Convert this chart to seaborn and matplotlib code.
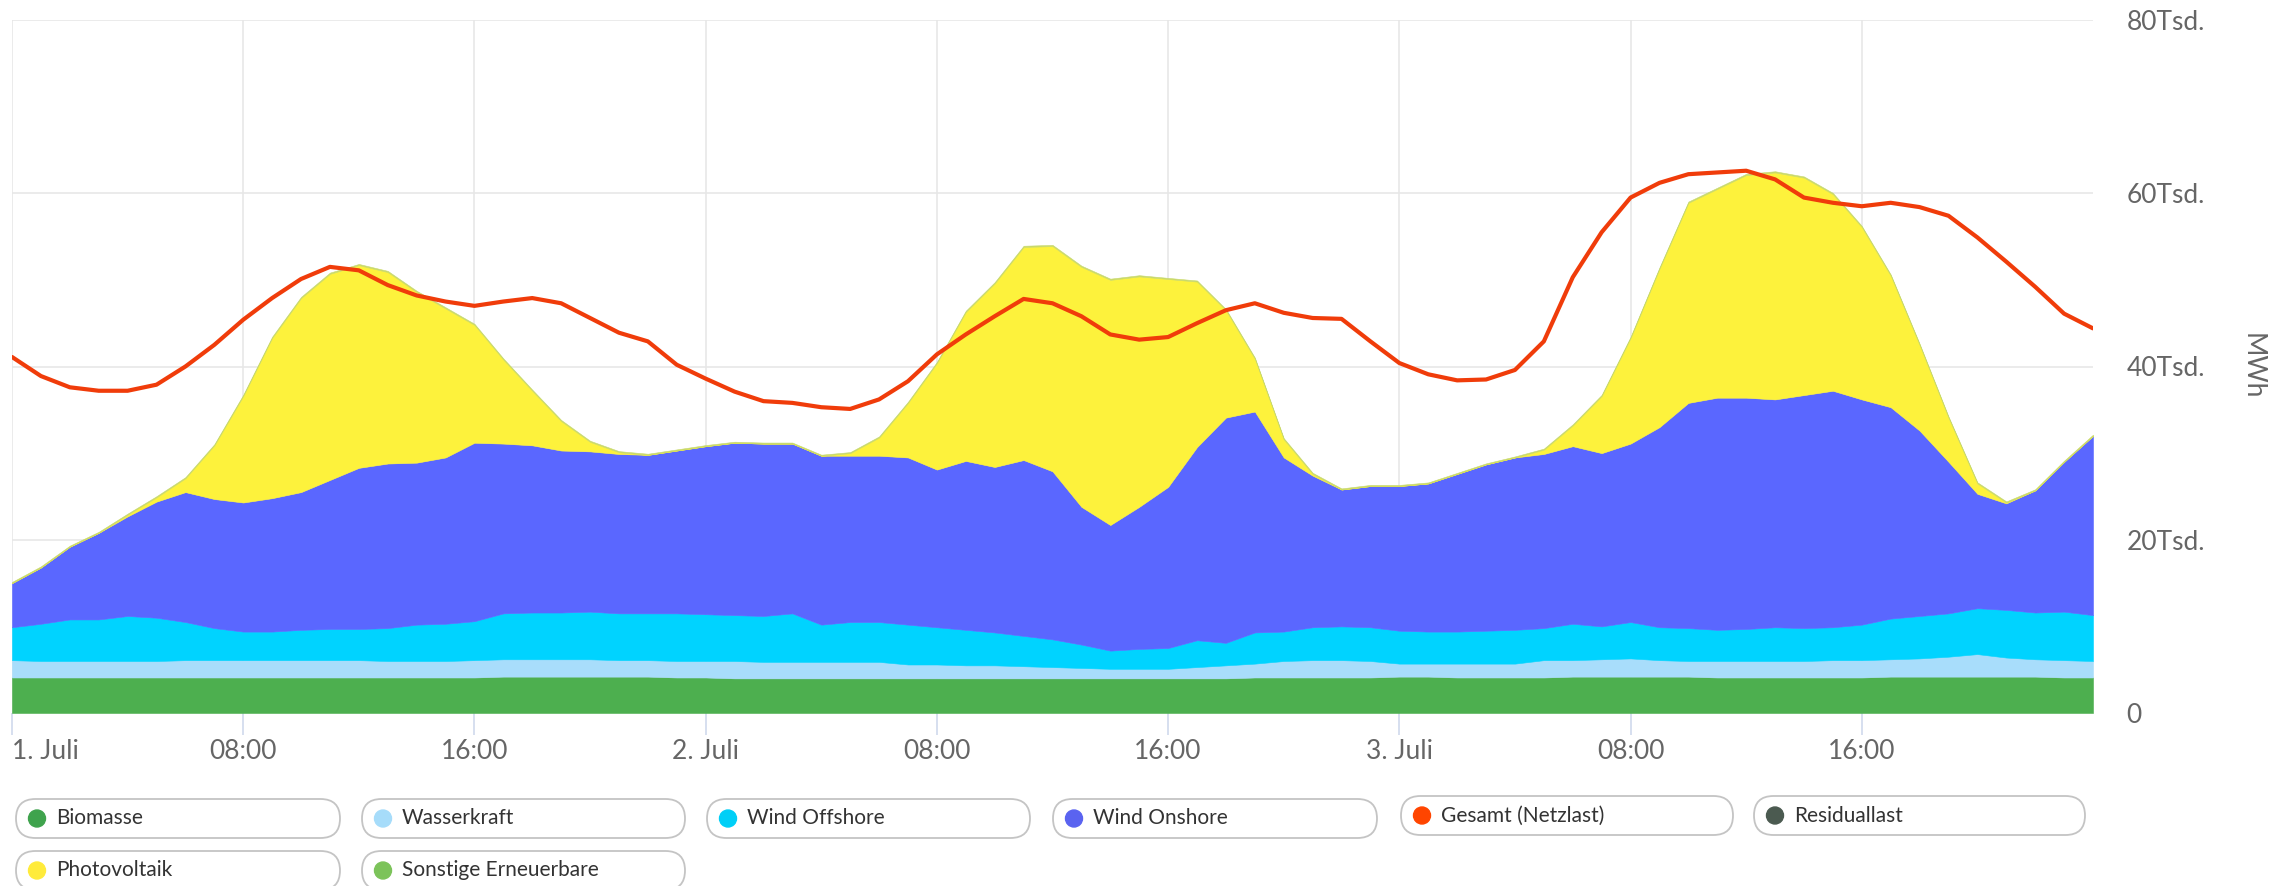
import numpy as np
import matplotlib
matplotlib.use("Agg")
import matplotlib.pyplot as plt
import seaborn as sns
from matplotlib.patches import FancyBboxPatch, Circle

# ---------------- data (thousand MWh per hour) ----------------
hours = list(range(73))  # 1. Juli 00:00 ... 4. Juli 00:00

biomasse = [4.1, 4.1, 4.1, 4.1, 4.1, 4.1, 4.1, 4.1, 4.1, 4.1, 4.1, 4.1,
            4.1, 4.1, 4.1, 4.1, 4.1, 4.2, 4.2, 4.2, 4.2, 4.2, 4.2, 4.1,
            4.1, 4.0, 4.0, 4.0, 4.0, 4.0, 4.0, 4.0, 4.0, 4.0, 4.0, 4.0,
            4.0, 4.0, 4.0, 4.0, 4.0, 4.0, 4.0, 4.1, 4.1, 4.1, 4.1, 4.1,
            4.2, 4.2, 4.1, 4.1, 4.1, 4.1, 4.2, 4.2, 4.2, 4.2, 4.2, 4.1,
            4.1, 4.1, 4.1, 4.1, 4.1, 4.2, 4.2, 4.2, 4.2, 4.2, 4.2, 4.1,
            4.1]

wasserkraft = [2.0, 1.9, 1.9, 1.9, 1.9, 1.9, 2.0, 2.0, 2.0, 2.0, 2.0, 2.0,
               2.0, 1.9, 1.9, 1.9, 2.0, 2.0, 2.0, 2.0, 2.0, 1.9, 1.9, 1.9,
               1.9, 2.0, 1.9, 1.9, 1.9, 1.9, 1.9, 1.6, 1.6, 1.5, 1.5, 1.4,
               1.3, 1.2, 1.1, 1.1, 1.1, 1.3, 1.5, 1.6, 1.9, 2.0, 2.0, 1.9,
               1.5, 1.5, 1.6, 1.6, 1.6, 2.0, 1.9, 2.0, 2.1, 1.9, 1.8, 1.9,
               1.9, 1.9, 1.9, 2.0, 2.0, 2.0, 2.1, 2.3, 2.6, 2.2, 2.0, 2.0,
               1.9]

wind_offshore = [3.8, 4.3, 4.8, 4.8, 5.2, 5.0, 4.4, 3.7, 3.3, 3.3, 3.5, 3.6,
                 3.6, 3.8, 4.2, 4.3, 4.5, 5.3, 5.4, 5.4, 5.5, 5.4, 5.4, 5.5,
                 5.4, 5.3, 5.3, 5.6, 4.3, 4.6, 4.6, 4.6, 4.3, 4.1, 3.8, 3.5,
                 3.2, 2.7, 2.1, 2.3, 2.4, 3.1, 2.6, 3.6, 3.4, 3.8, 3.9, 3.9,
                 3.8, 3.7, 3.7, 3.8, 3.9, 3.7, 4.2, 3.8, 4.2, 3.8, 3.8, 3.6,
                 3.7, 3.9, 3.8, 3.8, 4.1, 4.7, 4.9, 5.0, 5.3, 5.5, 5.4, 5.6,
                 5.3]

wind_onshore = [5.1, 6.5, 8.4, 10.0, 11.5, 13.4, 15.0, 14.9, 14.9, 15.4, 15.9, 17.2,
                18.6, 19.0, 18.7, 19.2, 20.6, 19.6, 19.3, 18.7, 18.5, 18.4, 18.3, 18.8,
                19.4, 19.9, 19.9, 19.6, 19.5, 19.2, 19.2, 19.3, 18.2, 19.5, 19.1, 20.3,
                19.4, 15.9, 14.5, 16.4, 18.6, 22.3, 26.0, 25.5, 20.1, 17.5, 15.8, 16.3,
                16.7, 17.1, 18.2, 19.2, 19.9, 20.1, 20.5, 20.0, 20.6, 23.1, 26.0, 26.8,
                26.7, 26.3, 26.9, 27.3, 26.0, 24.4, 21.4, 17.5, 13.2, 12.3, 14.1, 17.3,
                20.7]

photovoltaik = [0.0, 0.0, 0.0, 0.0, 0.2, 0.5, 1.6, 6.2, 12.3, 18.5, 22.4, 23.8,
                23.4, 22.1, 19.7, 17.2, 13.6, 9.7, 6.3, 3.4, 1.1, 0.2, 0.0, 0.0,
                0.0, 0.0, 0.0, 0.0, 0.0, 0.3, 2.1, 6.3, 12.3, 17.2, 21.2, 24.6,
                26.0, 27.7, 28.3, 26.6, 24.0, 19.1, 12.4, 6.1, 2.1, 0.2, 0.0, 0.0,
                0.0, 0.0, 0.0, 0.0, 0.0, 0.5, 2.4, 6.6, 12.2, 18.3, 23.1, 24.1,
                25.7, 26.2, 25.1, 22.7, 19.9, 15.2, 9.9, 5.1, 1.2, 0.1, 0.0, 0.0,
                0.0]

sonstige = [0.13, 0.13, 0.12, 0.12, 0.12, 0.13, 0.13, 0.13, 0.14, 0.14, 0.14, 0.14,
            0.14, 0.14, 0.14, 0.14, 0.13, 0.13, 0.13, 0.13, 0.13, 0.13, 0.13, 0.13,
            0.13, 0.12, 0.12, 0.12, 0.12, 0.12, 0.13, 0.13, 0.13, 0.14, 0.14, 0.14,
            0.14, 0.14, 0.14, 0.14, 0.13, 0.13, 0.13, 0.13, 0.13, 0.13, 0.13, 0.13,
            0.13, 0.12, 0.12, 0.12, 0.12, 0.12, 0.13, 0.13, 0.13, 0.14, 0.14, 0.14,
            0.14, 0.14, 0.14, 0.14, 0.13, 0.13, 0.13, 0.13, 0.13, 0.13, 0.13, 0.13,
            0.13]

netzlast = [41.1, 38.9, 37.6, 37.2, 37.2, 37.9, 40.0, 42.5, 45.4, 47.9, 50.1, 51.5,
            51.1, 49.4, 48.2, 47.5, 47.0, 47.5, 47.9, 47.3, 45.6, 43.9, 42.9, 40.2,
            38.6, 37.1, 36.0, 35.8, 35.3, 35.1, 36.2, 38.3, 41.4, 43.7, 45.8, 47.8,
            47.3, 45.8, 43.7, 43.1, 43.4, 45.0, 46.5, 47.3, 46.2, 45.6, 45.5, 42.9,
            40.4, 39.1, 38.4, 38.5, 39.6, 42.9, 50.3, 55.5, 59.5, 61.2, 62.2, 62.4,
            62.6, 61.6, 59.5, 58.9, 58.5, 58.9, 58.4, 57.4, 54.9, 52.1, 49.2, 46.1,
            44.4]

x_tick_pos = [0, 8, 16, 24, 32, 40, 48, 56, 64]
x_tick_labels = ["1. Juli", "08:00", "16:00", "2. Juli", "08:00", "16:00",
                 "3. Juli", "08:00", "16:00"]
y_tick_pos = [0, 20, 40, 60, 80]
y_tick_labels = ["0", "20Tsd.", "40Tsd.", "60Tsd.", "80Tsd."]

area_colors = ["#4daf4f", "#a8ddfb", "#00d3ff", "#5a67ff", "#fdf23c", "#c9d96a"]

legend_names = ["Biomasse", "Wasserkraft", "Wind Offshore", "Wind Onshore",
                "Gesamt (Netzlast)", "Residuallast", "Photovoltaik",
                "Sonstige Erneuerbare"]
legend_colors = ["#3fa34d", "#a6dcfa", "#00cff7", "#5a63f0",
                 "#ff4500", "#4b5a50", "#ffeb3b", "#7cc35a"]

# ---------------- style ----------------
sns.set_theme(style="white")
plt.rcParams["font.family"] = ["Lato", "DejaVu Sans"]

W, H = 2287, 886
fig = plt.figure(figsize=(W / 100, H / 100), dpi=100)
fig.patch.set_facecolor("white")
ax = fig.add_axes([12 / W, 1 - 713 / H, 2081 / W, 693 / H])

polys = ax.stackplot(hours, biomasse, wasserkraft, wind_offshore, wind_onshore,
                     photovoltaik, sonstige, colors=area_colors, linewidth=0.4)
for p, c in zip(polys, area_colors):
    p.set_edgecolor(c)

sns.lineplot(x=hours, y=netzlast, ax=ax, color="#f03c0a", linewidth=3.0,
             zorder=5, legend=False)

ax.set_xlim(0, 72)
ax.set_ylim(0, 80)
ax.set_xlabel("")
ax.set_ylabel("")
ax.set_xticks(x_tick_pos)
ax.set_xticklabels(x_tick_labels)
ax.set_yticks(y_tick_pos)
ax.set_yticklabels(y_tick_labels)
ax.yaxis.tick_right()
ax.tick_params(axis="y", length=0, pad=24, labelsize=19, labelcolor="#666666")
ax.tick_params(axis="x", length=16, width=1.1, color="#ccd6eb", pad=3,
               labelsize=19, labelcolor="#666666", bottom=True)
ax.get_xticklabels()[0].set_ha("left")
ax.grid(True, color="#e6e6e6", linewidth=1.1)
ax.set_axisbelow(True)
for s in ax.spines.values():
    s.set_visible(False)

fig.text(2252 / W, 1 - 366 / H, "MWh", rotation=270, ha="center", va="center",
         fontsize=19, color="#666666")

# ---------------- legend pills ----------------
lax = fig.add_axes([0, 0, 1, 1])
lax.set_xlim(0, W)
lax.set_ylim(H, 0)
lax.axis("off")
lax.patch.set_alpha(0)

box_x = [16, 362, 707, 1053, 1401, 1754, 16, 362]
box_y = [799, 799, 799, 799, 796, 796, 851, 851]
box_w = [324, 323, 323, 324, 332, 331, 324, 323]
box_h = 39
for name, col, bx, by, bw in zip(legend_names, legend_colors, box_x, box_y, box_w):
    lax.add_patch(FancyBboxPatch((bx, by), bw, box_h,
                                 boxstyle="round,pad=0,rounding_size=19.5",
                                 fc="white", ec="#c4c4c4", lw=1.3))
    lax.add_patch(Circle((bx + 21, by + box_h / 2), 8.5, color=col))
    lax.text(bx + 40, by + box_h / 2, name, ha="left", va="center",
             fontsize=15, color="#333333")

fig.savefig("out.png", dpi=100, facecolor="white")
